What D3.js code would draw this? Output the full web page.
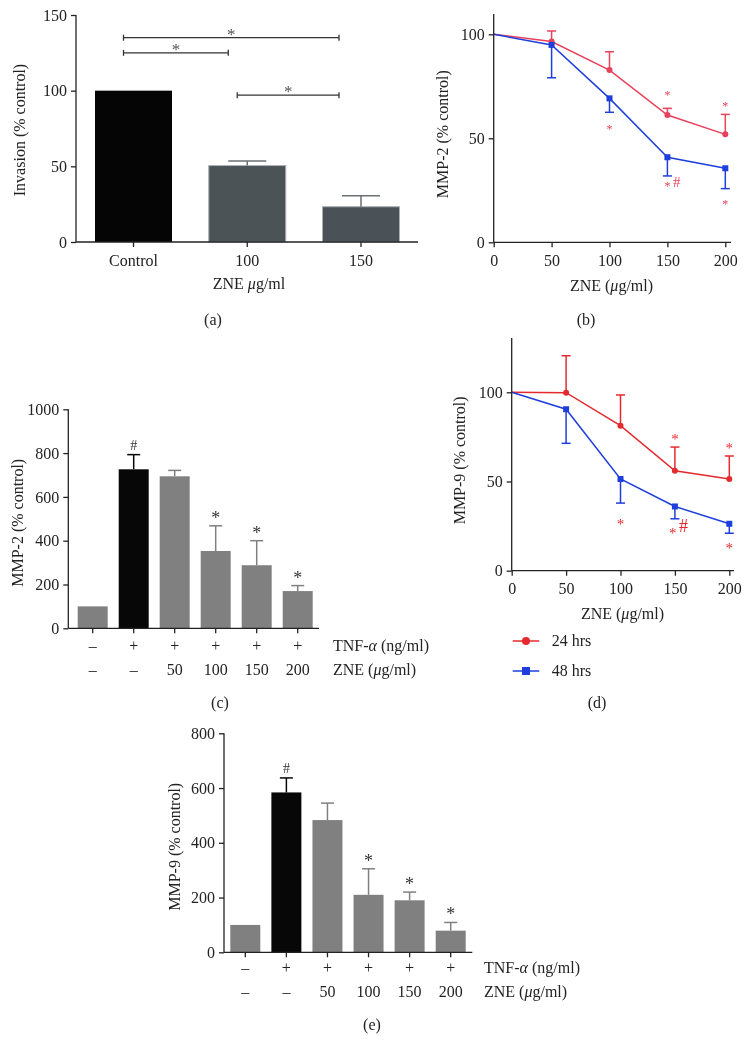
<!DOCTYPE html>
<html>
<head>
<meta charset="utf-8">
<script src="https://cdn.jsdelivr.net/npm/d3@7"></script>
<style>
  body { margin: 0; background: #fff; }
  svg { display: block; font-family: "Liberation Serif", "DejaVu Serif", serif; will-change: transform; }
  .axis path, .axis line { stroke: #222; stroke-width: 1.3; }
  .axis text { font-size: 16px; fill: #222; font-family: "Liberation Serif", serif; }
</style>
</head>
<body>
<svg id="fig"></svg>
<script>
// ---- data ----
// (a) invasion
const invGroups = ["Control", "100", "150"];
const invValues = [100, 50.5, 23.3];
const invErrTop = [null, 53.5, 30.5];
const invColors = ["#050505", "#4b5356", "#4a5257"];
const invSig = [[0, 2, 135], [0, 1, 125], [1, 2, 97]];   // from, to, level

// (b) and (d) dose curves
const doses = [0, 50, 100, 150, 200];
const mmp2h24 = [100, 96.5, 82.8, 61.2, 51.9];
const mmp2h24Err = [null, 101.6, 91.6, 64.4, 61.5];
const mmp2h48 = [100, 94.9, 69.2, 40.9, 35.6];
const mmp2h48Err = [null, 79.1, 62.5, 31.9, 25.8];
const mmp2Marks = [[100, 55.6, "*"], [150, 72, "*"], [200, 66.3, "*"], [150, 28, "*"], [158, 28.5, "#"], [200, 19.5, "*"]];

const mmp9h24 = [100, 99.8, 81.3, 56, 51.4];
const mmp9h24Err = [null, 120.5, 98.5, 69.3, 64.3];
const mmp9h48 = [100, 90.5, 51.4, 36, 26.3];
const mmp9h48Err = [null, 71.4, 37.9, 29.1, 21];
const mmp9Marks = [[100, 27.5, "*"], [150, 75.4, "*"], [200, 70, "*"], [148, 22.8, "*"], [158, 24.5, "#"], [200, 14, "*"]];

// (c) and (e) TNF-alpha bars
const tnfRow = ["–", "+", "+", "+", "+", "+"];
const zneRow = ["–", "–", "50", "100", "150", "200"];
const mmp2Tnf = [100, 726, 694, 353, 288, 170];
const mmp2TnfErr = [null, 793, 721, 468, 400, 195];
const mmp9Tnf = [100, 584, 483, 210, 190, 79];
const mmp9TnfErr = [null, 637, 545, 305, 220, 109];
const tnfMarks = ["", "#", "", "*", "*", "*"];

const FS = 16;
const svg = d3.select("#fig").attr("width", 752).attr("height", 1058);
svg.append("rect").attr("width", 752).attr("height", 1058).attr("fill", "#fff");

// helper: text with italic greek bits
function richText(g, x, y, parts, anchor, size, rotate) {
  const t = g.append("text").attr("x", x).attr("y", y)
    .attr("text-anchor", anchor || "middle")
    .attr("font-size", size || FS).attr("fill", "#222");
  if (rotate) t.attr("transform", `rotate(-90,${x},${y})`);
  parts.forEach(p => {
    const s = t.append("tspan").text(p[0]);
    if (p[1]) s.attr("font-style", "italic");
  });
  return t;
}

function yAxis(g, y, x0, vals, top) {
  const a = g.append("g").attr("class", "axis").attr("transform", `translate(${x0},0)`)
    .call(d3.axisLeft(y).tickValues(vals).tickFormat(d3.format("d")).tickSize(5).tickPadding(4).tickSizeOuter(0));
  a.select(".domain").remove();
  a.append("line").attr("x1", 0).attr("x2", 0)
    .attr("y1", y.range()[0]).attr("y2", top).attr("stroke", "#222").attr("stroke-width", 1.3);
}

// ================= (a) =================
{
  const g = svg.append("g");
  const x = d3.scalePoint().domain(invGroups).range([133.5, 361]);
  const y = d3.scaleLinear().domain([0, 150]).range([242, 15]);
  const bw = 77;
  g.selectAll("rect.bar").data(invGroups).join("rect")
    .attr("x", d => x(d) - bw / 2).attr("width", bw)
    .attr("y", (d, i) => y(invValues[i])).attr("height", (d, i) => y(0) - y(invValues[i]))
    .attr("fill", (d, i) => invColors[i])
    .attr("stroke", (d, i) => i ? "#a9b0b3" : "none").attr("stroke-width", 1);
  invGroups.forEach((d, i) => {
    if (invErrTop[i] == null) return;
    g.append("line").attr("x1", x(d)).attr("x2", x(d))
      .attr("y1", y(invValues[i])).attr("y2", y(invErrTop[i])).attr("stroke", "#6b6f72").attr("stroke-width", 1.5);
    g.append("line").attr("x1", x(d) - 19).attr("x2", x(d) + 19)
      .attr("y1", y(invErrTop[i])).attr("y2", y(invErrTop[i])).attr("stroke", "#6b6f72").attr("stroke-width", 1.5);
  });
  yAxis(g, y, 76, [0, 50, 100, 150], 15);
  g.append("line").attr("x1", 76).attr("x2", 418).attr("y1", y(0)).attr("y2", y(0))
    .attr("stroke", "#222").attr("stroke-width", 1.3);
  invGroups.forEach(d => {
    g.append("line").attr("x1", x(d)).attr("x2", x(d)).attr("y1", y(0)).attr("y2", y(0) + 5)
      .attr("stroke", "#222").attr("stroke-width", 1.3);
    g.append("text").attr("x", x(d)).attr("y", y(0) + 24).attr("text-anchor", "middle")
      .attr("font-size", FS).attr("fill", "#222").text(d);
  });
  // significance brackets
  invSig.forEach(([a, b, lv]) => {
    const x1 = x(invGroups[a]) - 10, x2 = x(invGroups[b]) - 22 + (b === 1 ? 3 : 0);
    const yy = y(lv);
    g.append("line").attr("x1", x1).attr("x2", x2).attr("y1", yy).attr("y2", yy).attr("stroke", "#333").attr("stroke-width", 1.3);
    [x1, x2].forEach(xx => g.append("line").attr("x1", xx).attr("x2", xx).attr("y1", yy - 3).attr("y2", yy + 3).attr("stroke", "#333").attr("stroke-width", 1.3));
    g.append("text").attr("x", (x1 + x2) / 2).attr("y", yy + 2).attr("text-anchor", "middle")
      .attr("font-size", 17).attr("fill", "#555").text("*");
  });
  richText(g, 25, 130, [["Invasion (% control)"]], "middle", FS, true);
  richText(g, 249, 289, [["ZNE "], ["μ", true], ["g/ml"]]);
  richText(g, 213, 325, [["(a)"]]);
}

// line panel helper
function linePanel(cfg) {
  const g = svg.append("g");
  const x = d3.scaleLinear().domain([0, 200]).range(cfg.xr);
  const y = d3.scaleLinear().domain([0, 100]).range(cfg.yr);
  const line = d3.line().x((d, i) => x(doses[i])).y(d => y(d));
  // error bars
  [[cfg.s24, cfg.e24, cfg.red], [cfg.s48, cfg.e48, cfg.blue]].forEach(([s, e, c]) => {
    doses.forEach((d, i) => {
      if (e[i] == null) return;
      g.append("line").attr("x1", x(d)).attr("x2", x(d)).attr("y1", y(s[i])).attr("y2", y(e[i]))
        .attr("stroke", c).attr("stroke-width", 1.5);
      g.append("line").attr("x1", x(d) - 4.5).attr("x2", x(d) + 4.5).attr("y1", y(e[i])).attr("y2", y(e[i]))
        .attr("stroke", c).attr("stroke-width", 1.5);
    });
  });
  g.append("path").attr("d", line(cfg.s24)).attr("fill", "none").attr("stroke", cfg.red).attr("stroke-width", 1.5);
  g.append("path").attr("d", line(cfg.s48)).attr("fill", "none").attr("stroke", cfg.blue).attr("stroke-width", 1.5);
  g.selectAll("circle.p").data(cfg.s24.slice(1)).join("circle")
    .attr("cx", (d, i) => x(doses[i + 1])).attr("cy", d => y(d)).attr("r", 3).attr("fill", cfg.red);
  g.selectAll("rect.p").data(cfg.s48.slice(1)).join("rect")
    .attr("x", (d, i) => x(doses[i + 1]) - 3).attr("y", d => y(d) - 3)
    .attr("width", 6).attr("height", 6).attr("fill", cfg.blue);
  cfg.marks.forEach(([mx, my, t]) => {
    g.append("text").attr("x", x(mx)).attr("y", y(my) + (t === "*" ? cfg.ms * 0.5 : cfg.ms * 0.35))
      .attr("text-anchor", "middle").attr("font-size", t === "*" ? cfg.ms : cfg.ms + 3)
      .attr("fill", cfg.red).text(t);
  });
  // axes
  yAxis(g, y, cfg.xr[0], [0, 50, 100], cfg.top);
  const xa = g.append("g").attr("class", "axis").attr("transform", `translate(0,${cfg.yr[0]})`)
    .call(d3.axisBottom(x).tickValues(doses).tickSize(5).tickPadding(7).tickSizeOuter(0));
  xa.select(".domain").remove();
  xa.append("line").attr("x1", cfg.xr[0]).attr("x2", cfg.xend).attr("stroke", "#222").attr("stroke-width", 1.3);
  richText(g, cfg.ylabX, (cfg.yr[0] + cfg.top) / 2 + 6, [[cfg.ylab]], "middle", FS, true);
  richText(g, (cfg.xr[0] + cfg.xr[1]) / 2 + 2, cfg.xlabY, [["ZNE ("], ["μ", true], ["g/ml)"]]);
  return g;
}

// ================= (b) =================
linePanel({
  xr: [493.7, 725.3], yr: [242.3, 34.3], top: 14, xend: 731,
  s24: mmp2h24, e24: mmp2h24Err, s48: mmp2h48, e48: mmp2h48Err,
  red: "#e8415c", blue: "#1f3fdc", marks: mmp2Marks, ms: 12,
  ylab: "MMP-2 (% control)", ylabX: 448, xlabY: 291
});
richText(svg, 586, 325, [["(b)"]]);

// ================= (d) =================
{
  const g = linePanel({
    xr: [511.7, 729.3], yr: [570.7, 392.3], top: 338, xend: 734,
    s24: mmp9h24, e24: mmp9h24Err, s48: mmp9h48, e48: mmp9h48Err,
    red: "#e42a2e", blue: "#1f3fdc", marks: mmp9Marks, ms: 15,
    ylab: "MMP-9 (% control)", ylabX: 465, xlabY: 619
  });
  const legend = [["24 hrs", "#e42a2e", "circle"], ["48 hrs", "#1f3fdc", "square"]];
  legend.forEach(([name, c, shape], i) => {
    const ly = 641 + i * 30;
    g.append("line").attr("x1", 512.7).attr("x2", 539.3).attr("y1", ly).attr("y2", ly).attr("stroke", c).attr("stroke-width", 1.5);
    if (shape === "circle") g.append("circle").attr("cx", 526).attr("cy", ly).attr("r", 4).attr("fill", c);
    else g.append("rect").attr("x", 522).attr("y", ly - 4).attr("width", 8).attr("height", 8).attr("fill", c);
    g.append("text").attr("x", 551.7).attr("y", ly + 5).attr("font-size", FS).attr("fill", "#222").text(name);
  });
  richText(g, 597, 708, [["(d)"]]);
}

// bar panel helper for (c) and (e)
function tnfPanel(cfg) {
  const g = svg.append("g");
  const idx = d3.range(tnfRow.length);
  const x = d3.scalePoint().domain(idx).range(cfg.xr);
  const y = d3.scaleLinear().domain([0, cfg.max]).range(cfg.yr);
  const bw = 30;
  g.selectAll("rect.bar").data(cfg.vals).join("rect")
    .attr("x", (d, i) => x(i) - bw / 2).attr("width", bw)
    .attr("y", d => y(d)).attr("height", d => y(0) - y(d))
    .attr("fill", (d, i) => i === 1 ? "#070707" : "#808080");
  cfg.vals.forEach((v, i) => {
    const e = cfg.err[i];
    if (e == null) return;
    const c = i === 1 ? "#070707" : "#808080";
    g.append("line").attr("x1", x(i)).attr("x2", x(i)).attr("y1", y(v)).attr("y2", y(e)).attr("stroke", c).attr("stroke-width", 1.5);
    g.append("line").attr("x1", x(i) - 6.5).attr("x2", x(i) + 6.5).attr("y1", y(e)).attr("y2", y(e)).attr("stroke", c).attr("stroke-width", 1.5);
    const m = tnfMarks[i];
    if (m) g.append("text").attr("x", x(i)).attr("y", y(e) - (m === "#" ? 5 : 2))
      .attr("text-anchor", "middle").attr("font-size", m === "#" ? 14 : 18).attr("fill", "#333").text(m);
  });
  yAxis(g, y, cfg.x0, d3.range(0, cfg.max + 1, 200), cfg.yr[1]);
  g.append("line").attr("x1", cfg.x0).attr("x2", cfg.xend).attr("y1", y(0)).attr("y2", y(0)).attr("stroke", "#222").attr("stroke-width", 1.3);
  idx.forEach(i => {
    g.append("line").attr("x1", x(i)).attr("x2", x(i)).attr("y1", y(0)).attr("y2", y(0) + 5).attr("stroke", "#222").attr("stroke-width", 1.3);
    g.append("text").attr("x", x(i)).attr("y", cfg.row1 + 5).attr("text-anchor", "middle").attr("font-size", FS).attr("fill", "#222").text(tnfRow[i]);
    g.append("text").attr("x", x(i)).attr("y", cfg.row2 + 5).attr("text-anchor", "middle").attr("font-size", FS).attr("fill", "#222").text(zneRow[i]);
  });
  richText(g, cfg.labX, cfg.row1 + 5, [["TNF-"], ["α", true], [" (ng/ml)"]], "start");
  richText(g, cfg.labX, cfg.row2 + 5, [["ZNE ("], ["μ", true], ["g/ml)"]], "start");
  richText(g, cfg.ylabX, (cfg.yr[0] + cfg.yr[1]) / 2 + 4, [[cfg.ylab]], "middle", FS, true);
  richText(g, cfg.cap[0], cfg.cap[1], [[cfg.cap[2]]]);
}

// ================= (c) =================
tnfPanel({
  vals: mmp2Tnf, err: mmp2TnfErr, max: 1000,
  xr: [92.7, 297.7], yr: [628.3, 409.3], x0: 68.3, xend: 319,
  row1: 646, row2: 670, labX: 333, ylab: "MMP-2 (% control)", ylabX: 23,
  cap: [220, 708, "(c)"]
});

// ================= (e) =================
tnfPanel({
  vals: mmp9Tnf, err: mmp9TnfErr, max: 800,
  xr: [245.3, 450.7], yr: [952.3, 733.3], x0: 224, xend: 472.3,
  row1: 967.7, row2: 992.3, labX: 484, ylab: "MMP-9 (% control)", ylabX: 180,
  cap: [372, 1030, "(e)"]
});
</script>
</body>
</html>
